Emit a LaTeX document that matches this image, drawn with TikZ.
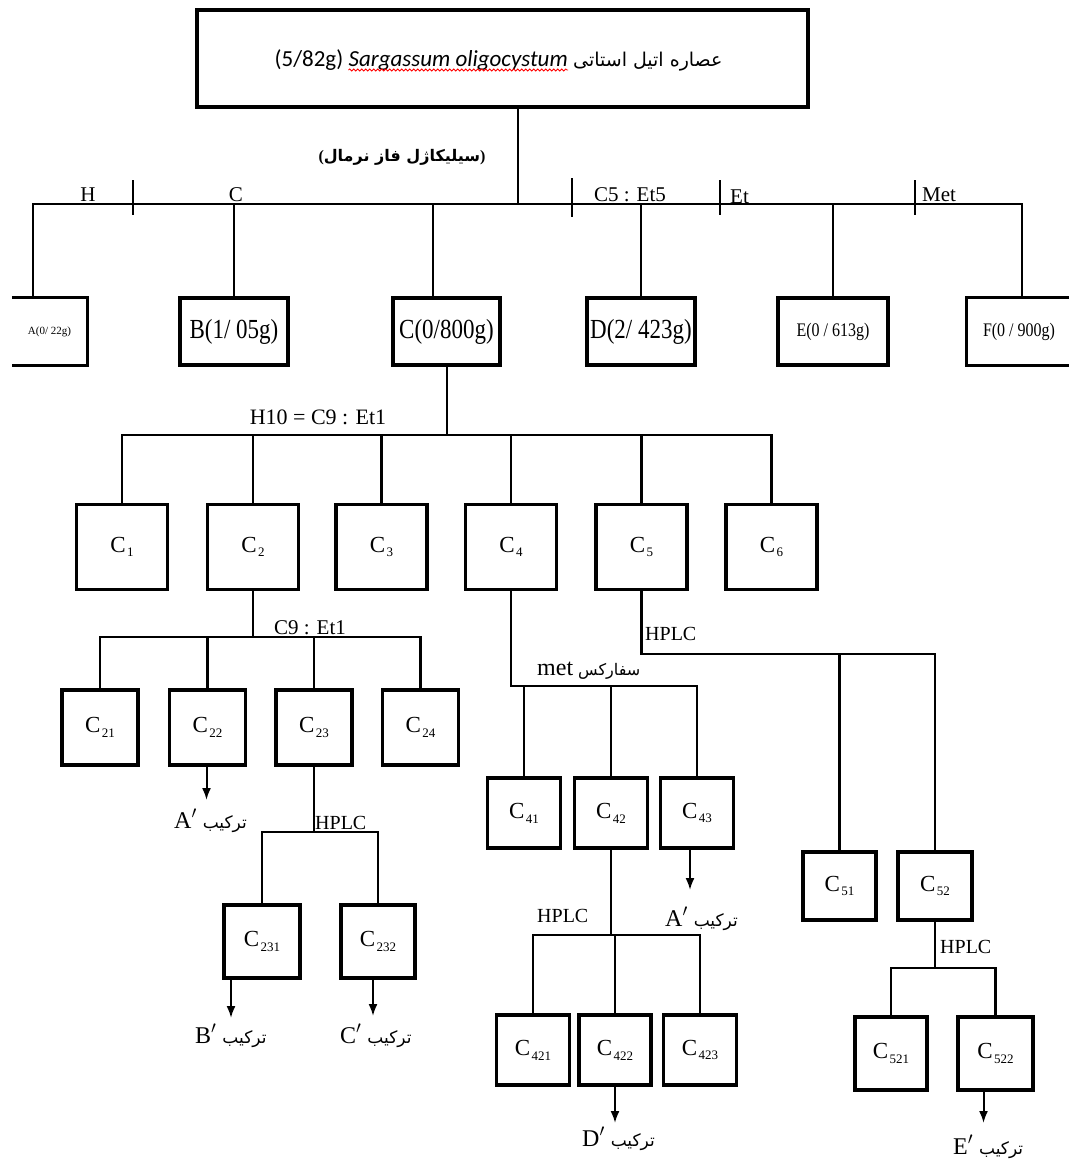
\documentclass[tikz,border=0pt]{standalone}
\usepackage{fontspec}
\usepackage{graphicx}
\setmainfont{Liberation Serif}
\newfontfamily\farsi[Script=Arabic]{DejaVu Sans}
\newfontfamily\calfont{Carlito}
\TeXXeTstate=1
\usetikzlibrary{arrows.meta,decorations.pathmorphing}

\newcommand\fs[1]{\fontsize{#1}{#1}\selectfont}
\newcommand\Csub[1]{C\kern1.5pt\raisebox{-0.45ex}{\fs{13}#1}}
\newcommand\tarkib[1]{{\fs{24}#1$'$}\kern6pt{\farsi\fs{17}\beginR ترکیب\endR}}

\begin{document}
\begin{tikzpicture}[x=1pt,y=-1pt,
  ln/.style={line width=2.8pt},
  tick/.style={line width=1.6pt},
  bx/.style={draw,line width=3.2pt,inner sep=0pt,font=\fs{23}},
  bxopen/.style={inner sep=0pt},
  s2/.style={minimum width=91pt,minimum height=85pt},
  s3/.style={minimum width=76pt,minimum height=75pt},
  s4/.style={minimum width=73pt,minimum height=70pt},
  arr/.style={line width=2pt,-{Latex[length=12pt,width=9pt]}},
  lbl/.style={inner sep=0pt,font=\fs{21}},
  note/.style={inner sep=0pt,anchor=base west}]
\useasboundingbox (0,0) rectangle (1068,1167);

% ---- title box ----
\node[draw,line width=3.5pt,minimum width=611pt,minimum height=97pt] (top) at (502.5,58.5) {};
\node[inner sep=0pt,anchor=base east,font=\calfont\itshape\fs{23}] (t2) at (568,66) {Sargassum oligocystum};
\node[inner sep=0pt,anchor=base east,font=\calfont\fs{23},xshift=-5pt] (t1) at (t2.base west) {(5/82g)};
\node[inner sep=0pt,anchor=base west,font=\farsi\fs{19},xshift=5pt] (t3) at (t2.base east) {\beginR عصاره اتیل استاتی\endR};
\draw[red,line width=0.8pt,decorate,decoration={snake,amplitude=1pt,segment length=4pt}]
  ([yshift=-4pt]t2.base west) -- ([yshift=-4pt]t2.base east);

\node[inner sep=0pt,font=\fs{16}\bfseries] (phase) at (402,157) {({\farsi\bfseries\beginR سیلیکاژل فاز نرمال\endR})};

% ---- first split ----
\node[bxopen,minimum width=75pt,minimum height=67pt,font=\fs{11}] (A) at (49.5,331.5) {A(0/ 22g)};
\draw[line width=3.2pt] (A.north west) -- (A.north east) -- (A.south east) -- (A.south west);
\node[bx,minimum width=108pt,minimum height=67pt] (B) at (234,331.5) {\scalebox{1}[1.2]{B(1/ 05g)}};
\node[bx,minimum width=107pt,minimum height=67pt] (C) at (446.5,331.5) {\scalebox{1}[1.2]{C(0/800g)}};
\node[bx,minimum width=108pt,minimum height=67pt] (D) at (641,331.5) {\scalebox{1}[1.2]{D(2/ 423g)}};
\node[bx,minimum width=110pt,minimum height=67pt,font=\fs{16}] (E) at (833,331.5) {\scalebox{1}[1.2]{E(0 / 613g)}};
\node[bxopen,minimum width=104pt,minimum height=67pt,font=\fs{16}] (F) at (1019,331.5) {\scalebox{1}[1.2]{F(0 / 900g)}};
\draw[line width=3.2pt] (F.north east) -- (F.north west) -- (F.south west) -- (F.south east);

\coordinate (b1w) at (33,204);
\coordinate (b1e) at (1022,204);
\coordinate (j0) at (518,204);
\coordinate (dC) at (433,204);
\draw[ln] (A.north -| b1w) -- (b1w) -- (b1e) -- (F.north -| b1e);
\draw[ln] (top.south -| j0) -- (j0);
\draw[ln] (B.north) -- (B.north |- b1w);
\draw[ln] (dC) -- (dC |- C.north);
\draw[ln] (D.north) -- (D.north |- b1w);
\draw[ln] (E.north) -- (E.north |- b1w);

\draw[tick] (133,180) -- (133,215);
\draw[tick] (572,178) -- (572,217);
\draw[tick] (720,180) -- (720,215);
\draw[tick] (915,180) -- (915,215);
\node[lbl,anchor=base] (lH) at (88,201) {H};
\node[lbl,anchor=base] (lC) at (236,201) {C};
\node[lbl,anchor=base] (lCE) at (630,201) {C5 : Et5};
\node[lbl,anchor=base west] (lEt) at (730,203) {Et};
\node[lbl,anchor=base west] (lMet) at (922,201) {Met};

% ---- fraction C ----
\node[bx,s2] (c1) at (122,547) {\Csub{1}};
\node[bx,s2] (c2) at (253,547) {\Csub{2}};
\node[bx,s2] (c3) at (381.5,547) {\Csub{3}};
\node[bx,s2] (c4) at (511,547) {\Csub{4}};
\node[bx,s2] (c5) at (641.5,547) {\Csub{5}};
\node[bx,s2] (c6) at (771.5,547) {\Csub{6}};
\coordinate (b2w) at (122,435);
\coordinate (jC) at (447,435);
\draw[ln] (c1.north) -- (b2w) -- (b2w -| c6.north) -- (c6.north);
\draw[ln] (C.south -| jC) -- (jC);
\foreach \n in {c2,c3,c4,c5} \draw[ln] (\n.north) -- (\n.north |- b2w);
\node[lbl,anchor=base,font=\fs{22}] (lH10) at (318,424) {H10 = C9 : Et1};

% ---- fraction C2 ----
\node[bx,s3] (c21) at (100,727.5) {\Csub{21}};
\node[bx,s3] (c22) at (207.5,727.5) {\Csub{22}};
\node[bx,s3] (c23) at (314,727.5) {\Csub{23}};
\node[bx,s3] (c24) at (420.5,727.5) {\Csub{24}};
\coordinate (b3w) at (100,637);
\draw[ln] (c21.north) -- (b3w) -- (b3w -| c24.north) -- (c24.north);
\draw[ln] (c2.south) -- (c2.south |- b3w);
\foreach \n in {c22,c23} \draw[ln] (\n.north) -- (\n.north |- b3w);
\node[lbl,anchor=base] (lC9) at (310,634) {C9 : Et1};

\node[note] (pA1) at (174,828) {\tarkib{A}};
\draw[arr] ([xshift=-1pt]c22.south) -- ([xshift=-1pt]c22.south |- 0,800);

% ---- fraction C23 ----
\node[bx,s3,minimum height=73pt] (c231) at (262,941.5) {\Csub{231}};
\node[bx,s3,minimum width=74pt,minimum height=73pt] (c232) at (378,941.5) {\Csub{232}};
\coordinate (b4w) at (262,832);
\draw[ln] (c231.north) -- (b4w) -- (b4w -| c232.north) -- (c232.north);
\draw[ln] (c23.south) -- (c23.south |- b4w);
\node[lbl,anchor=base west,font=\fs{20}] (hp1) at (315,829) {HPLC};
\node[note] (pB) at (195,1043) {\tarkib{B}};
\node[note] (pC) at (340,1043) {\tarkib{C}};
\draw[arr] ([xshift=-31pt]c231.south) -- ([xshift=-31pt]c231.south |- 0,1018);
\draw[arr] ([xshift=-5pt]c232.south) -- ([xshift=-5pt]c232.south |- 0,1016);

% ---- fraction C4 ----
\node[bx,s4] (c41) at (524,813) {\Csub{41}};
\node[bx,s4] (c42) at (611,813) {\Csub{42}};
\node[bx,s4] (c43) at (697,813) {\Csub{43}};
\coordinate (b5w) at (511,686);
\draw[ln] (c4.south) -- (b5w) -- (b5w -| c43.north) -- (c43.north);
\foreach \n in {c41,c42} \draw[ln] (\n.north) -- (\n.north |- b5w);
\node[note] (lmet) at (537,675) {{\fs{24}met}\kern5pt{\farsi\fs{16}\beginR سفارکس\endR}};
\node[note] (pA2) at (665,926) {\tarkib{A}};
\draw[arr] ([xshift=-7pt]c43.south) -- ([xshift=-7pt]c43.south |- 0,890);

% ---- fraction C42 ----
\node[bx,s4] (c421) at (533,1050) {\Csub{421}};
\node[bx,s4,minimum width=72pt] (c422) at (615,1050) {\Csub{422}};
\node[bx,s4] (c423) at (700,1050) {\Csub{423}};
\coordinate (b6w) at (533,935);
\draw[ln] (c421.north) -- (b6w) -- (b6w -| c423.north) -- (c423.north);
\draw[ln] (c42.south) -- (c42.south |- b6w);
\draw[ln] (c422.north) -- (c422.north |- b6w);
\node[lbl,anchor=base west,font=\fs{20}] (hp2) at (537,922) {HPLC};
\node[note] (pD) at (582,1146) {\tarkib{D}};
\draw[arr] (c422.south) -- (c422.south |- 0,1123);

% ---- fraction C5 ----
\node[bx,s4,minimum height=68pt] (c51) at (839.5,886) {\Csub{51}};
\node[bx,s4,minimum width=74pt,minimum height=68pt] (c52) at (935,886) {\Csub{52}};
\coordinate (b7e) at (935,654);
\draw[ln] (c5.south) -- (c5.south |- b7e) -- (b7e) -- (c52.north);
\draw[ln] (c51.north) -- (c51.north |- b7e);
\node[lbl,anchor=base west,font=\fs{20}] (hp3) at (645,640) {HPLC};

% ---- fraction C52 ----
\node[bx,s4,minimum width=72pt,minimum height=73pt] (c521) at (891,1053.5) {\Csub{521}};
\node[bx,s4,minimum width=75pt,minimum height=73pt] (c522) at (995.5,1053.5) {\Csub{522}};
\coordinate (b8w) at (891,968);
\draw[ln] (c521.north) -- (b8w) -- (b8w -| c522.north) -- (c522.north);
\draw[ln] (c52.south) -- (c52.south |- b8w);
\node[lbl,anchor=base west,font=\fs{20}] (hp4) at (940,953) {HPLC};
\node[note] (pE) at (953,1154) {\tarkib{E}};
\draw[arr] ([xshift=-12pt]c522.south) -- ([xshift=-12pt]c522.south |- 0,1123);
\end{tikzpicture}
\end{document}
